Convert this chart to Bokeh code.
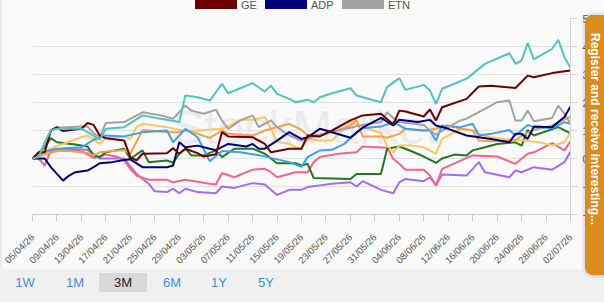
import datetime as dt
from math import pi
from bokeh.plotting import figure
from bokeh.layouts import column
from bokeh.models import Range1d, FixedTicker, DatetimeTickFormatter, Label, Div
from bokeh.embed import file_html
from bokeh.resources import INLINE

# ---------------- data ----------------
start_date = dt.datetime(2026, 4, 5)
end_date = dt.datetime(2026, 7, 2)

x_tick_labels = ["05/04/26", "09/04/26", "13/04/26", "17/04/26", "21/04/26", "25/04/26",
                 "29/04/26", "03/05/26", "07/05/26", "11/05/26", "15/05/26", "19/05/26",
                 "23/05/26", "27/05/26", "31/05/26", "04/06/26", "08/06/26", "12/06/26",
                 "16/06/26", "20/06/26", "24/06/26", "28/06/26", "02/07/26"]
y_ticks = [-20, -10, 0, 10, 20, 30, 40, 50]

legend_names = ["GE", "ADP", "ETN"]
range_buttons = ["1W", "1M", "3M", "6M", "1Y", "5Y"]
selected_button = "3M"

# day offsets from 05/04/26 and % change
ge_days = [0,1,2,3,4,5,8,9,10,11,12,15,16,17,18,22,23,24,25,27,28,30,31,32,36,38,39,42,44,45,47,49,52,54,57,59,60,61,64,65,66,67,71,73,75,79,81,82,85,88]
ge_vals = [0,2.2,2.2,10,11.2,9.8,10.6,12.7,12,8.2,7.2,6.4,0.5,-0.7,1.7,1.9,3.7,1.7,3.5,1.9,0.7,1.5,9.4,7.9,7.6,5.2,2.2,3.5,3.5,8.2,7.9,10,13.6,15.4,16,12.1,17.1,16.8,15,17.5,13.6,18.3,21.3,25.7,26,25.2,29.6,29,30.5,31.4]

adp_days = [0,2,3,5,6,7,9,10,11,13,15,16,18,20,22,23,24,25,27,29,30,32,35,36,37,38,40,42,43,44,45,47,49,52,54,57,59,60,63,65,66,68,71,75,78,79,80,81,82,85,87,88]
adp_vals = [0,0,-3.1,-7.9,-6.1,-4.9,-4.3,-3.1,-1.7,-1.3,-0.5,-0.3,-3.1,-3.1,-3.1,-2.5,5.8,4,4.6,3.5,3,5.2,4.3,5.2,3.5,3.5,6.4,9.4,8.2,7,7.6,10.6,9.4,7.4,11,14.5,11.8,13.8,13,13.8,11.8,10.6,8.2,7,5.8,8.8,8.8,7,11.4,11.2,14.8,18.6]

etn_days = [0,1,2,3,4,8,9,10,11,12,15,18,21,23,25,26,28,30,31,32,34,36,37,39,40,42,44,45,47,49,52,54,57,58,59,60,62,64,65,66,68,70,71,74,76,78,79,80,81,82,85,86,87,88]
etn_vals = [0,1,5,10,11,11.4,11.4,9,7.6,12.7,13,16.5,15.4,14.2,18.9,17.1,16,17.4,13.6,10.6,13.6,15.4,11.2,13.6,11.2,8.2,6.4,7,8.5,9.5,11,12,13,16.5,14.5,13,12.5,12,10,8.5,11.2,13.6,14.2,17.7,20.1,20.7,13.6,13.6,17.1,13.3,14.5,18.9,16,12.4]

teal_days = [0,1,2,3,4,8,9,11,12,15,18,21,24,25,27,29,31,32,36,38,39,40,42,43,45,46,47,49,52,53,57,58,60,61,64,65,66,67,71,74,78,79,80,81,82,85,86,87,88]
teal_vals = [0,0.5,5.8,10,10.6,10.6,9.4,6.7,10.6,11.2,15.4,14.2,13,22.5,21.9,20.7,26.7,23.3,26.9,23.9,26,23.1,21.3,20.1,21,20.1,21.9,23.3,25.1,22.5,20.1,25.5,28.7,24.5,26.3,24.3,19.5,24.9,28.5,33.8,37.6,33.8,35,41.2,35.4,39.2,42.4,36.2,32.4]

green_days = [0,2,3,4,7,9,10,11,12,15,16,18,19,22,23,24,25,26,28,30,31,33,36,38,40,43,44,45,46,52,53,57,58,60,62,64,66,67,69,71,72,74,76,79,80,81,82,86,88]
green_vals = [0,4,7.3,5.8,5,4.3,1.1,0.5,2.2,3.5,-0.1,2.9,-1.3,-0.7,-1.5,1.7,3.5,1.1,1.1,2.9,0.5,3.5,3.5,1.7,-1.7,-1.7,-2.5,-1.9,-7,-7.3,-5.5,-5.5,3.5,4.3,2.6,0.7,-1.6,0,1.4,1.1,2.9,4,5.2,5.8,4.6,10.2,8.2,11.2,9]

orange_days = [0,2,4,5,9,10,11,15,16,18,22,24,25,27,29,31,32,36,38,39,42,44,45,47,49,52,53,54,57,58,60,61,64,65,68,70,72,73,75,79,80,82,85,88]
orange_vals = [0,1.5,2.6,2.9,2,1.1,2.2,3,1.7,10.2,9.5,9.4,10.2,8.8,7.4,10,8.8,8.2,10,10.6,12.4,10.2,8.2,8.6,9.4,11.8,13.8,7.9,7.9,7.4,8.8,10.6,10,10.2,11.8,10.6,10,6.4,6.2,6.4,8.2,10.2,11.8,15]

yellow_days = [0,2,4,5,8,9,11,12,15,16,17,18,22,25,27,31,34,36,38,39,40,42,43,44,45,47,49,52,54,57,58,59,60,62,64,66,67,70,72,74,77,80,83,85,87,88]
yellow_vals = [0,2,4.6,5.2,7.6,8.2,5.2,7.4,7.9,7,11.2,12.4,11.2,9.8,10,10.6,13.8,13.8,14.8,10.6,6,5.2,4,3.5,6.9,6.4,6.4,13,11.4,9,4.6,2.2,4.6,4.6,4,1.7,7,10.6,10,8,7,6.5,5.8,4.6,5.8,9.4]

blue_days = [0,2,4,8,10,12,15,18,22,23,25,27,29,31,34,37,42,44,45,47,49,51,53,54,57,59,60,61,64,65,66,67,70,72,73,75,78,79,81,82,85,87,88]
blue_vals = [0,2.5,3.5,4,6.7,8.2,7.9,9.4,10,5.8,10.6,7.6,-1,2.7,2.2,1.2,-1.3,-3,0.5,2.9,3.1,5.2,9.4,10.8,11.4,13,11.8,10.6,10,10,6.4,11.8,11.2,12.4,8.2,8.8,10.2,8.2,12,11.2,10.9,13,12.4]

pink_days = [0,1,2,3,8,10,12,14,15,16,17,19,22,23,25,29,30,31,33,36,38,39,40,43,45,46,47,50,53,54,58,59,60,61,64,65,66,67,72,76,79,81,82,85,87,88]
pink_vals = [0,0,-2.5,2.9,2.6,0.2,1.4,0.5,-0.7,-3.7,-6.1,-7.6,-7.6,-8.5,-7.6,-9,-9.3,-5.2,-6.7,-4,-3.7,-4.9,-6.7,-4.9,-4.9,-1.3,0.5,1.7,2.2,4.3,3.8,-0.1,-1.9,-4,-4,-6.1,-9.6,-3.7,1.1,0.7,-1.9,1.7,2.2,5.5,2.9,6.1]

purple_days = [0,2,3,9,11,15,17,19,20,22,23,24,25,27,30,31,33,36,38,40,42,44,45,47,49,52,53,54,57,59,60,61,64,65,66,67,71,73,74,78,79,80,82,85,87,88]
purple_vals = [0,2,3.5,3.1,0,0,-5.5,-9,-11.7,-12,-10.8,-12.4,-10.8,-12,-12.4,-10,-10.5,-8.8,-9.3,-13,-11.2,-11.2,-10.2,-9.6,-9,-8.5,-10,-8.1,-11.2,-12.4,-8.5,-7.3,-8.1,-6.7,-9.6,-5.7,-6.1,-1.3,-4.9,-6.7,-4.3,-4.9,-3.1,-4,-1.3,2.5]

tab_text = "Register and receive interesting..."
watermark_text = "StockMarket"

# ---------------- styles / layout ----------------
FONT = "Liberation Sans"
W, H = 604, 302
FL, FR, FT, FB = 32, 571, 18, 214   # frame edges (canvas px)
Y_TOP, Y_BOT = 50, -20

series = [
    (purple_days, purple_vals, "#a56cf2"),
    (pink_days, pink_vals, "#f2668b"),
    (green_days, green_vals, "#1f7a1f"),
    (yellow_days, yellow_vals, "#fcc75f"),
    (orange_days, orange_vals, "#f7a04b"),
    (blue_days, blue_vals, "#40a2e6"),
    (etn_days, etn_vals, "#a3a3a3"),
    (adp_days, adp_vals, "#00007f"),
    (ge_days, ge_vals, "#6e0000"),
    (teal_days, teal_vals, "#4fc4c0"),
]
legend_colors = ["#6e0000", "#00007f", "#a3a3a3"]


def to_dates(days):
    return [start_date + dt.timedelta(days=d) for d in days]


def ms(d):
    return (d - dt.datetime(1970, 1, 1)).total_seconds() * 1000.0


X0, X1 = ms(start_date), ms(end_date)
x_ticks = [ms(dt.datetime.strptime(s, "%d/%m/%y")) for s in x_tick_labels]


def dx(cx):
    return X0 + (cx - FL) * (X1 - X0) / (FR - FL)


def dy(cy):
    return Y_TOP - (cy - FT) * (Y_TOP - Y_BOT) / (FB - FT)


fig = figure(width=W, height=H, x_axis_type="datetime", y_axis_location="right",
             output_backend="svg", toolbar_location=None,
             x_range=Range1d(start_date, end_date), y_range=Range1d(Y_BOT, Y_TOP),
             min_border_left=FL, min_border_right=W - FR, min_border_top=FT,
             min_border_bottom=H - FB,
             background_fill_color="#fafafa", border_fill_color="#fafafa",
             outline_line_color=None)

# axes
xa = fig.xaxis[0]
xa.ticker = FixedTicker(ticks=x_ticks)
fmt = "%d/%m/%y"
xa.formatter = DatetimeTickFormatter(days=fmt, months=fmt, years=fmt, hours=fmt,
                                     hourmin=fmt, minutes=fmt, minsec=fmt, seconds=fmt,
                                     milliseconds=fmt, microseconds=fmt)
xa.major_label_orientation = pi / 4
xa.major_label_text_font = FONT
xa.major_label_text_font_size = "9.5px"
xa.major_label_text_color = "#555555"
xa.axis_line_color = "#cccccc"
xa.major_tick_line_color = "#cccccc"
xa.major_tick_out = 7
xa.major_tick_in = 0
xa.minor_tick_line_color = None
xa.major_label_standoff = 14

ya = fig.yaxis[0]
ya.ticker = FixedTicker(ticks=y_ticks)
ya.major_label_text_font = FONT
ya.major_label_text_font_size = "11px"
ya.major_label_text_color = "#555555"
ya.axis_line_color = "#d5d5d5"
ya.major_tick_line_color = "#d5d5d5"
ya.major_tick_out = 7
ya.major_tick_in = 0
ya.minor_tick_line_color = None
ya.major_label_standoff = 5

fig.xgrid.visible = False
fig.ygrid.ticker = FixedTicker(ticks=y_ticks)
fig.ygrid.grid_line_color = "#e2e2e2"

# faint watermark inside the plot area, under the lines
fig.add_layout(Label(x=dx(172), y=dy(127), text=watermark_text, text_font=FONT,
                     text_font_size="48px", text_color="#ebebef",
                     text_baseline="alphabetic", level="underlay"))

# lines
for days, vals, color in series:
    fig.line(to_dates(days), vals, line_color=color, line_width=2)

# ---------------- HTML overlay: legend, range buttons, side tab ----------------
parts = []


def add(style, content=""):
    parts.append('<div style="position:absolute;%s">%s</div>' % (style, content))


# thin left border
add("left:0;top:0;width:2px;height:269px;background:#ebebeb;")
# legend at the top edge
leg_x = [195, 265, 342]
for lx, name, col in zip(leg_x, legend_names, legend_colors):
    add("left:%dpx;top:-4px;width:42px;height:13px;background:%s;" % (lx, col))
    add("left:%dpx;top:0px;font-size:11px;line-height:11px;color:#555;" % (lx + 46), name)
# bottom band with range buttons
add("left:0;top:269px;width:604px;height:33px;background:#f0f0f0;")
btn_x = [25, 75, 123, 172, 219, 266]
for bx, name in zip(btn_x, range_buttons):
    sel = name == selected_button
    add("left:%dpx;top:273px;width:48px;height:19px;line-height:19px;text-align:center;"
        "font-size:13px;color:%s;background:%s;"
        % (bx - 24, "#222" if sel else "#3f8ee0", "#d9d9d9" if sel else "transparent"), name)
# orange side tab
add("left:585px;top:15px;width:30px;height:260px;background:#db8b1c;border-radius:8px;"
    "box-shadow:0 0 5px rgba(0,0,0,0.25);")
add("left:588px;top:33px;writing-mode:vertical-rl;font-size:12px;line-height:13px;"
    "font-weight:bold;color:#fff;white-space:nowrap;", tab_text)

overlay_html = ('<div style="position:relative;width:%dpx;height:%dpx;overflow:hidden;'
                'font-family:\'Liberation Sans\',Arial,sans-serif;">%s</div>'
                % (W, H, "".join(parts)))
overlay = Div(text=overlay_html, width=W, height=H,
              styles={"position": "absolute", "left": "0px", "top": "0px",
                      "z-index": "10", "pointer-events": "none", "margin": "0",
                      "padding": "0"})

p = column(fig, overlay)

open("out.html", "w").write(file_html(p, INLINE))
